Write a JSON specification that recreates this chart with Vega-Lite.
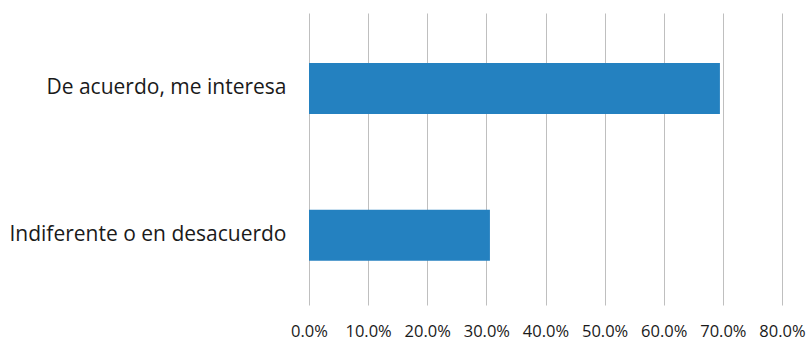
{
  "$schema": "https://vega.github.io/schema/vega-lite/v6.json",
  "width": 473,
  "height": 292,
  "autosize": {"type": "none"},
  "padding": {"left": 309, "top": 13, "right": 27, "bottom": 36},
  "background": "white",
  "config": {"view": {"stroke": null}, "font": "Open Sans"},
  "data": {"values": [
    {"categoria": "De acuerdo, me interesa", "porcentaje": 0.695},
    {"categoria": "Indiferente o en desacuerdo", "porcentaje": 0.306}
  ]},
  "mark": {"type": "bar", "color": "#2481c0"},
  "encoding": {
    "y": {
      "field": "categoria", "type": "nominal", "sort": null,
      "scale": {"paddingInner": 0.653, "paddingOuter": 0.321, "align": 0.53},
      "axis": {"title": null, "domain": false, "ticks": false, "labelPadding": 23, "labelFontSize": 21, "labelColor": "#1a1a1a", "labelFont": "Open Sans", "labelLimit": 400}
    },
    "x": {
      "field": "porcentaje", "type": "quantitative",
      "scale": {"domain": [0, 0.8], "nice": false},
      "axis": {"title": null, "format": ".1%", "values": [0,0.1,0.2,0.3,0.4,0.5,0.6,0.7,0.8], "labelOverlap": false, "domain": false, "ticks": false, "grid": true, "gridColor": "#bfbfbf", "gridWidth": 1, "labelPadding": 18, "labelFontSize": 16.5, "labelColor": "#1a1a1a", "labelFont": "Open Sans", "labelFlush": false}
    }
  }
}
